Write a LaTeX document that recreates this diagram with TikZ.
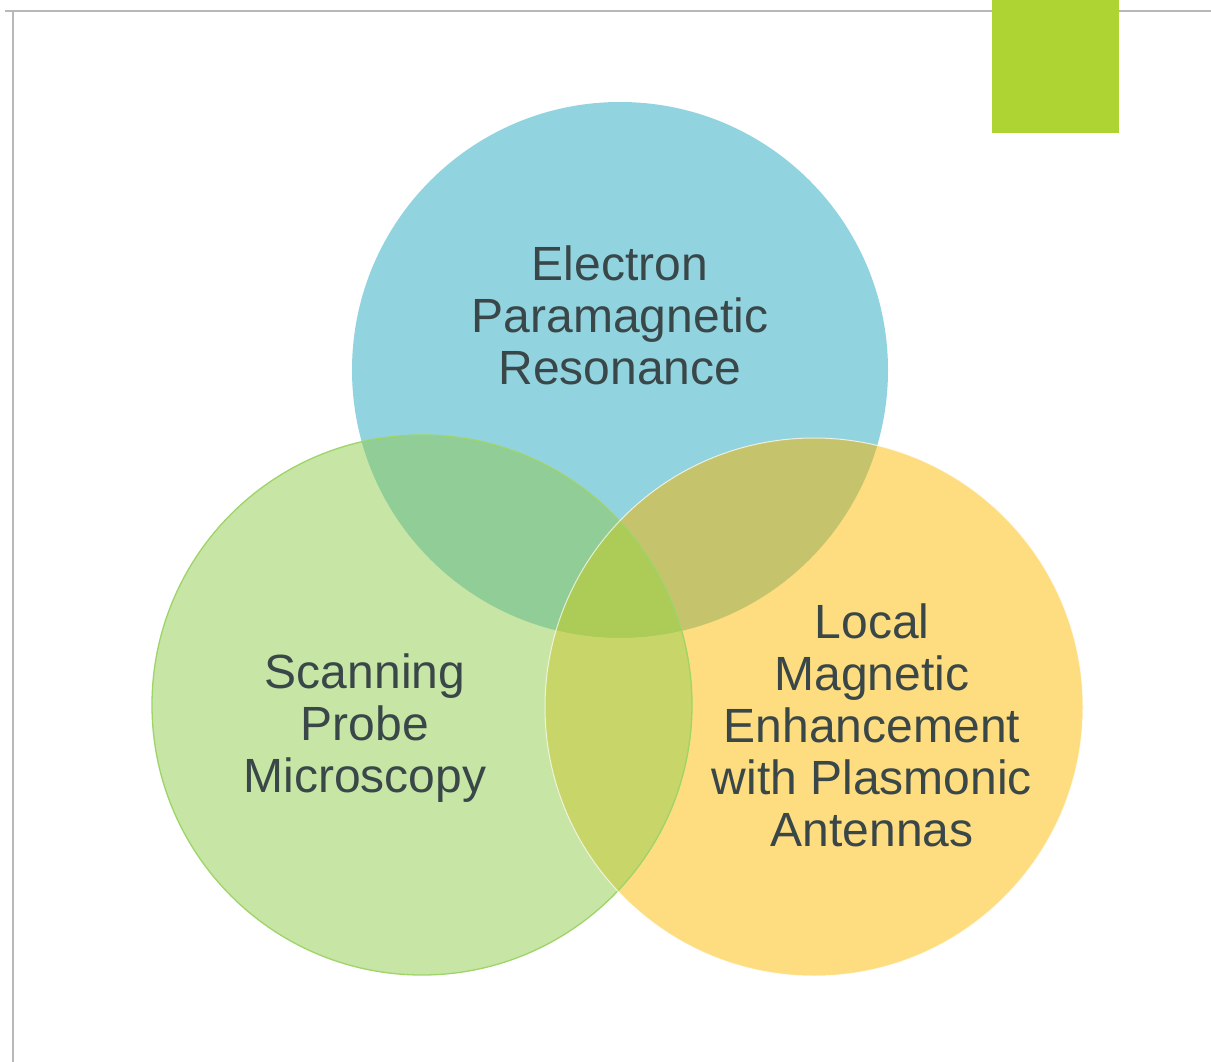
\documentclass[tikz,border=0pt]{standalone}
\usepackage{fontspec}
\setmainfont{Liberation Sans}
\definecolor{cblue}{HTML}{92D3E0}
\definecolor{cgreen}{HTML}{C7E5A5}
\definecolor{cyellow}{HTML}{FEDC80}
\definecolor{cbg}{HTML}{90CD97}
\definecolor{cby}{HTML}{C5C46D}
\definecolor{cgy}{HTML}{C7D569}
\definecolor{cbgy}{HTML}{ACCB57}
\definecolor{cframe}{HTML}{B8B8B8}
\definecolor{ctab}{HTML}{ADD433}
\definecolor{ctext}{HTML}{3A4749}
\definecolor{cgline}{HTML}{9FD469}
\tikzset{
  lbl/.style={anchor=base, inner sep=0pt, text=ctext, font=\fontsize{48}{52}\selectfont},
  frameline/.style={draw=cframe, line width=2.4pt},
}
\begin{document}
\begin{tikzpicture}[x=1pt,y=-1pt]
\useasboundingbox (0,0) rectangle (1211,1062);
\fill[white] (0,0) rectangle (1211,1062);
% frame
\coordinate (ftl) at (13,11);
\coordinate (fl) at (5,11);
\coordinate (fr) at (1211,11);
\coordinate (fb) at (13,1062);
\draw[frameline] (fl) -- (fr);
\draw[frameline] (ftl) -- (fb);
% tab
\fill[ctab] (992,0) rectangle (1119,133);
% circles
\coordinate (cb) at (620,370);
\coordinate (cg) at (422,705);
\coordinate (cy) at (814,707);
\def\rb{268}\def\rg{270}\def\ry{269}
\fill[cblue] (cb) circle[radius=\rb];
\fill[cgreen] (cg) circle[radius=\rg];
\fill[cyellow] (cy) circle[radius=\ry];
\begin{scope}
  \clip (cb) circle[radius=\rb];
  \fill[cbg] (cg) circle[radius=\rg];
  \fill[cby] (cy) circle[radius=\ry];
  \clip (cg) circle[radius=\rg];
  \fill[cbgy] (cy) circle[radius=\ry];
\end{scope}
\begin{scope}
  \clip (cg) circle[radius=\rg];
  \clip (cy) circle[radius=\ry];
  \fill[cgy, even odd rule] (0,0) rectangle (1211,1062) (cb) circle[radius=\rb];
\end{scope}
% outlines
\draw[cgline, line width=1.3pt] (cg) circle[radius=\rg];
\draw[white, opacity=0.7, line width=1pt] (cy) circle[radius=\ry];
% labels
\node[lbl] (e1) at (620,280) {Electron};
\node[lbl] (e2) at (620,332) {Paramagnetic};
\node[lbl] (e3) at (620,384) {Resonance};
\node[lbl] (s1) at (365,688) {Scanning};
\node[lbl] (s2) at (365,740) {Probe};
\node[lbl] (s3) at (365,792) {Microscopy};
\node[lbl] (l1) at (872,638) {Local};
\node[lbl] (l2) at (872,690) {Magnetic};
\node[lbl] (l3) at (872,742) {Enhancement};
\node[lbl] (l4) at (872,794) {with Plasmonic};
\node[lbl] (l5) at (872,846) {Antennas};
\end{tikzpicture}
\end{document}
